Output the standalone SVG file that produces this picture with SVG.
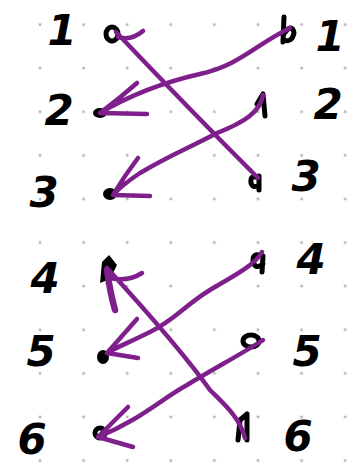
<svg xmlns="http://www.w3.org/2000/svg" width="348" height="463" viewBox="0 0 348 463">
<defs>
<style>
.d{font-family:"DejaVu Sans","Liberation Sans",sans-serif;font-size:42px;font-weight:bold;fill:#000;text-anchor:middle;font-style:italic}
.ink{fill:none;stroke:#000;stroke-width:5;stroke-linecap:round;stroke-linejoin:round}
.blob{fill:#000}
.arr{fill:none;stroke:#7E1F8C;stroke-width:4.5;stroke-linecap:round;stroke-linejoin:round}
.g{fill:#b5b5b5}
</style>
<pattern id="grid" x="18.2" y="2.7" width="43.6" height="43.6" patternUnits="userSpaceOnUse">
<circle class="g" cx="21.8" cy="21.8" r="1.5"/>
</pattern>
</defs>
<rect width="348" height="463" fill="#fff"/>
<rect width="348" height="463" fill="url(#grid)"/>

<g id="left-1"><text class="d" x="62" y="45">1</text><ellipse class="ink" cx="112" cy="34" rx="6" ry="7"/></g>
<g id="left-2"><text class="d" x="59" y="125">2</text><ellipse class="blob" cx="100" cy="113" rx="7" ry="5"/></g>
<g id="left-3"><text class="d" x="44" y="207">3</text><ellipse class="blob" cx="110" cy="194" rx="7" ry="6"/></g>
<g id="left-4"><text class="d" x="45" y="293">4</text><path class="blob" d="M100,283 L102,262 L109,255 L117,265 L110,279 Z"/></g>
<g id="left-5"><text class="d" x="41" y="366">5</text><ellipse class="blob" cx="103" cy="357" rx="6" ry="7"/></g>
<g id="left-6"><text class="d" x="32" y="454">6</text><ellipse class="ink" cx="100" cy="433" rx="5" ry="5"/></g>

<g id="right-1"><text class="d" x="330" y="51">1</text><path class="ink" d="M284,17 L283,42 M283,35 Q292,22 294,33 Q292,43 283,40"/></g>
<g id="right-2"><text class="d" x="328" y="119">2</text><path class="ink" d="M257,104 L263,94 L265,116"/></g>
<g id="right-3"><text class="d" x="306" y="191">3</text><path class="ink" d="M258,178 Q250,174 251,183 Q253,189 259,185 M259,176 L259,190"/></g>
<g id="right-4"><text class="d" x="311" y="274">4</text><path class="ink" d="M262,256 Q252,252 253,262 Q256,270 263,264 M263,256 L262,272"/></g>
<g id="right-5"><text class="d" x="307" y="366">5</text><ellipse class="ink" cx="251" cy="341" rx="8" ry="6"/></g>
<g id="right-6"><text class="d" x="298" y="451">6</text><path class="ink" d="M238,440 L240,420 L247,414 L247,440"/></g>

<g id="connectors">
<path class="arr" d="M258,178 Q190,110 116,32 M118,37 Q131,41 143,31"/>
<path class="arr" d="M290,28 C255,45 240,65 200,74 C165,82 130,95 100,113 L147,114 M100,113 Q120,98 137,83"/>
<path class="arr" d="M263,95 C260,112 245,122 217,133 C195,145 170,155 140,173 C128,181 120,187 113,195 L150,196 M113,195 Q125,175 138,158"/>
<path class="arr" d="M245,438 C240,418 225,405 210,390 C190,362 150,315 107,268 M110,278 Q128,282 142,273"/>
<path class="arr" d="M107,270 Q110,292 115,310" style="stroke-width:6.5"/>
<path class="arr" d="M262,252 C255,265 235,275 210,290 C185,305 175,320 150,332 C130,342 115,348 107,353 L137,319 M107,353 L138,358"/>
<path class="arr" d="M263,340 C245,352 215,368 187,385 C160,400 140,420 98,437 L128,407 M98,437 L133,447"/>
</g>
</svg>
